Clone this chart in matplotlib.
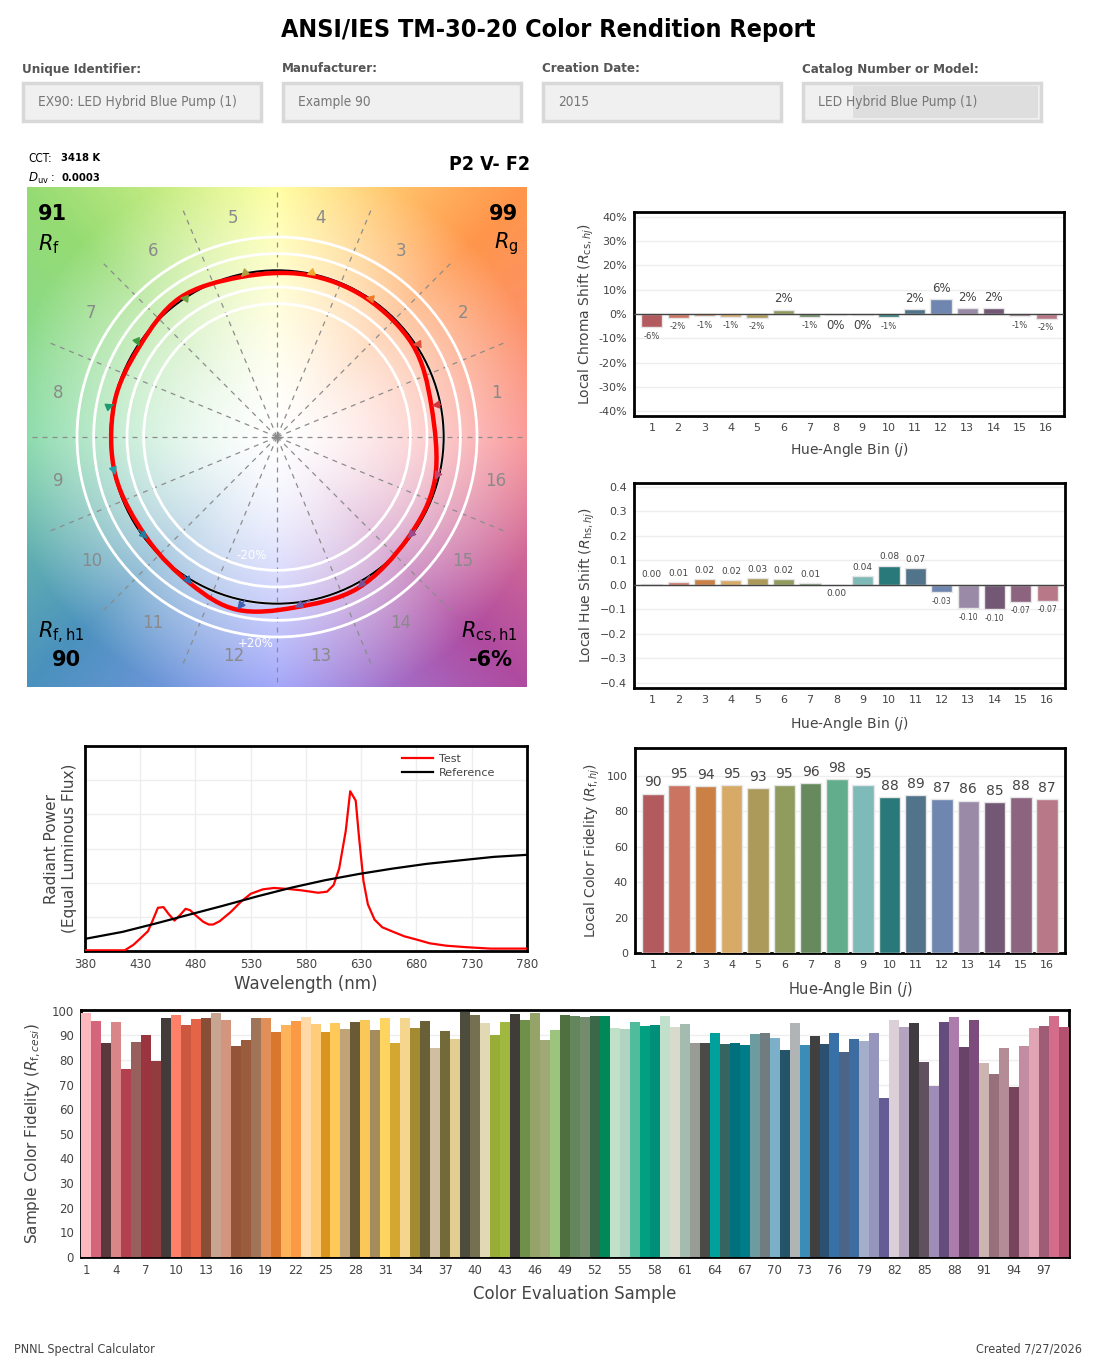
import numpy as np
import matplotlib
matplotlib.use('Agg')
import matplotlib.pyplot as plt
from matplotlib.patches import Rectangle, Circle, PathPatch
from matplotlib.path import Path

W, H = 1093, 1368

# hue-angle bin data
bins = np.arange(1, 17)
bin_colors = ['#b35a5e', '#cc7462', '#cb8046', '#d8aa68', '#ac9a5a', '#909c5e', '#668a5e', '#62ae8c',
              '#7ebab8', '#2a797a', '#52748a', '#6e86b0', '#9a8aa8', '#725874', '#8c6480', '#b87888']
arrow_colors = ['#d8343c', '#e0503c', '#f07828', '#f0a830', '#b0a040', '#6ca040', '#3c9c3c', '#1c9c70',
                '#24a0a8', '#2080a0', '#2468a8', '#4060b0', '#6a5ca8', '#7c5090', '#9a4c8c', '#c04870']
chroma_shift = [-5.5, -1.6, -1.0, -1.1, -1.6, 1.8, -1.2, -0.3, -0.4, -1.4, 2.1, 6.3, 2.4, 2.4, -1.0, -2.1]
hue_shift = [0.004, 0.009, 0.024, 0.018, 0.026, 0.022, 0.008, -0.002, 0.036, 0.078, 0.066,
             -0.032, -0.097, -0.101, -0.070, -0.068]
local_fidelity = [90, 95, 94, 95, 93, 95, 96, 98, 95, 88, 89, 87, 86, 85, 88, 87]

# summary values
rf, rg, rf_h1, rcs_h1 = 91, 99, 90, -6
cct, duv = 3418, 0.0003
header_labels = ['Unique Identifier:', 'Manufacturer:', 'Creation Date:', 'Catalog Number or Model:']
header_values = ['EX90: LED Hybrid Blue Pump (1)', 'Example 90', '2015', 'LED Hybrid Blue Pump (1)']

# spectral power distributions (relative)
wl_test = [380, 416, 424, 430, 437, 441, 446, 451, 456, 461, 466, 471, 475, 481, 487, 492, 496, 502,
           512, 521, 530, 541, 551, 564, 576, 591, 599, 605, 610, 616, 620, 625, 628, 632, 636, 642,
           649, 659, 669, 680, 692, 707, 726, 747, 780]
spd_test = [0.004, 0.004, 0.037, 0.073, 0.116, 0.175, 0.253, 0.257, 0.214, 0.178, 0.210, 0.247, 0.239,
            0.204, 0.171, 0.155, 0.155, 0.175, 0.229, 0.288, 0.335, 0.361, 0.369, 0.363, 0.355, 0.341,
            0.347, 0.386, 0.482, 0.704, 0.935, 0.880, 0.665, 0.410, 0.273, 0.184, 0.139, 0.112, 0.086,
            0.067, 0.045, 0.031, 0.022, 0.014, 0.014]
wl_ref = [380, 414, 444, 475, 505, 536, 567, 597, 628, 658, 689, 720, 750, 780]
spd_ref = [0.071, 0.112, 0.161, 0.214, 0.265, 0.320, 0.371, 0.414, 0.451, 0.482, 0.510, 0.531, 0.551, 0.563]

# color evaluation samples
samples = np.arange(1, 100)
sample_fidelity = [99.0, 95.8, 87.0, 95.4, 76.2, 87.2, 90.2, 79.5, 97.0, 98.2, 94.2, 96.6, 97.0, 99.0,
                   96.2, 85.6, 88.0, 97.0, 97.0, 91.3, 94.2, 95.8, 97.4, 94.6, 91.3, 95.0, 92.5, 95.4,
                   96.2, 92.1, 97.0, 86.8, 97.0, 92.9, 95.8, 84.8, 91.7, 88.5, 99.5, 98.2, 95.0, 90.1,
                   95.4, 98.6, 96.2, 99.0, 88.0, 92.1, 98.2, 97.8, 97.4, 97.8, 97.8, 92.9, 92.5, 95.4,
                   93.8, 94.2, 97.8, 93.3, 94.6, 86.8, 86.8, 90.9, 86.4, 86.8, 86.0, 90.5, 90.9, 88.9,
                   84.0, 95.0, 86.0, 89.7, 86.4, 90.9, 83.2, 88.5, 87.6, 90.9, 64.4, 96.2, 93.3, 95.0,
                   79.1, 69.3, 95.4, 97.4, 85.2, 96.2, 78.7, 74.2, 84.8, 68.9, 85.6, 92.9, 93.8, 97.8,
                   93.3]
sample_colors = ['#fdb8be', '#d4657a', '#5a383c', '#d88688', '#b2404e', '#97605c', '#9a343e', '#933c40',
                 '#433b3a', '#ff8068', '#cc5840', '#e56448', '#884e38', '#c7a591', '#d4957e', '#935438',
                 '#9a5c3c', '#a07458', '#e08f58', '#d9772e', '#feb25a', '#fa9a45', '#ffd9a8', '#ffcc7a',
                 '#da9420', '#ffc95a', '#c0a478', '#6a5a36', '#fac858', '#a58c5c', '#fed460', '#d4a830',
                 '#f4d68e', '#a48a30', '#6a6038', '#cfbea0', '#736a3a', '#e2ce90', '#4e4c3c', '#747050',
                 '#e2d9b4', '#98ac38', '#a0b840', '#403c38', '#6e9048', '#94a468', '#a0a878', '#9cc47c',
                 '#507040', '#64865c', '#728c6c', '#3a6848', '#008858', '#c0e0c8', '#b0d4c0', '#50bc9c',
                 '#00a080', '#00907a', '#c0e0cc', '#d8dacc', '#a4bcb0', '#989c94', '#4a4a46', '#00a09c',
                 '#366460', '#00707c', '#007c88', '#6c9ca0', '#707c80', '#7cb0c8', '#245468', '#b0b4b4',
                 '#3c8cb8', '#404040', '#2c5070', '#3870a8', '#4c6488', '#3c6ca0', '#a4aeca', '#9696bc',
                 '#645c94', '#dcd0d8', '#b4a4c0', '#403c40', '#605060', '#a08cb8', '#644c7c', '#ac7cac',
                 '#6a4468', '#7c4c7c', '#ccb4b0', '#98707c', '#b48c98', '#78445c', '#c48ca0', '#e0a4b4',
                 '#a05c74', '#d46c8c', '#b45070']

plt.rcParams['font.family'] = ['DejaVu Sans']
plt.rcParams['mathtext.fontset'] = 'dejavusans'
txt = '#444444'
# condensed face for the report header and footer
narrow = dict(family=['DejaVu Sans'], fontstretch='condensed')


def rect(x0, y0, x1, y1):
    return [x0 / W, 1 - y1 / H, (x1 - x0) / W, (y1 - y0) / H]


def frame(ax):
    for s in ax.spines.values():
        s.set_linewidth(2)
        s.set_color('black')
    ax.tick_params(length=0, labelsize=8, colors=txt, pad=5)


fig = plt.figure(figsize=(W / 100, H / 100), dpi=100)

# header / footer drawn in pixel coordinates
bg = fig.add_axes([0, 0, 1, 1])
bg.set_xlim(0, W)
bg.set_ylim(H, 0)
bg.axis('off')
bg.text(548, 30, 'ANSI/IES TM-30-20 Color Rendition Report', ha='center', va='center',
        fontsize=18, fontweight='bold', **narrow)
for i, (lab, val) in enumerate(zip(header_labels, header_values)):
    x0 = 22 + 260 * i
    bg.text(x0, 69, lab, ha='left', va='center', fontsize=9.5, fontweight='bold', color='#555555', **narrow)
    bg.add_patch(Rectangle((x0 + 1, 83), 238, 38, fc='#f0f0f0', ec='#d8d8d8', lw=2.5))
    if i == 3:
        bg.add_patch(Rectangle((853, 86), 185, 32, fc='#dedede', ec='none'))
    bg.text(x0 + 16, 102, val, ha='left', va='center', fontsize=9.8, color='#777777', **narrow)
bg.text(28, 158, 'CCT:', ha='left', va='center', fontsize=8.5, color='black', **narrow)
bg.text(61, 158, f'{cct} K', ha='left', va='center', fontsize=8, fontweight='bold', **narrow)
bg.text(28, 178, r'$D_{\mathrm{uv}}$ :', ha='left', va='center', fontsize=8.5, **narrow)
bg.text(61, 178, f'{duv:.4f}', ha='left', va='center', fontsize=8, fontweight='bold', **narrow)
bg.text(530, 165, 'P2 V- F2', ha='right', va='center', fontsize=14, fontweight='bold', **narrow)
bg.text(14, 1349, 'PNNL Spectral Calculator', ha='left', va='center', fontsize=9, color=txt, **narrow)
bg.text(1082, 1349, 'Created 7/27/2026', ha='right', va='center', fontsize=9, color=txt, **narrow)

# ---- color vector graphic ----
ax = fig.add_axes(rect(27, 187, 527, 687))
g = np.linspace(-1.5, 1.5, 500)
gx, gy = np.meshgrid(g, g)
ang = np.degrees(np.arctan2(gy, gx)) % 360
rad = np.hypot(gx, gy)
anchor_ang = [0, 45, 90, 135, 180, 225, 270, 315, 360]
anchor_rgb = np.array([(250, 140, 140), (255, 150, 75), (255, 255, 150), (150, 220, 115), (125, 215, 160),
                       (75, 145, 190), (150, 155, 250), (175, 75, 160), (250, 140, 140)]) / 255
rgb = np.stack([np.interp(ang, anchor_ang, anchor_rgb[:, k]) for k in range(3)], -1)
t = np.clip(rad / 1.65, 0, 1) ** 1.5
img = 1 - (1 - rgb) * t[..., None]
ax.imshow(img, extent=[-1.5, 1.5, -1.5, 1.5], origin='lower', zorder=0, interpolation='bilinear')
for k in range(16):
    a = np.radians(22.5 * k)
    ax.plot([0, 1.5 * np.cos(a)], [0, 1.5 * np.sin(a)], ls=(0, (4, 4)), color='#8c8c8c', lw=0.9, zorder=1)
for r in [0.8, 0.9, 1.0, 1.1, 1.2]:
    ax.add_patch(Circle((0, 0), r, fill=False, ec='white', lw=2, zorder=2))
ax.plot(0, 0, marker='+', color='#888888', ms=9, zorder=2)
for j in bins:
    a = np.radians((j - 0.5) * 22.5)
    ax.text(1.34 * np.cos(a), 1.34 * np.sin(a), str(j), ha='center', va='center', fontsize=12, color='#8a8a8a')
ax.text(-0.15, -0.71, '-20%', ha='center', va='center', fontsize=8.5, color='white')
ax.text(-0.13, -1.24, '+20%', ha='center', va='center', fontsize=8.5, color='white')
ax.add_patch(Circle((0, 0), 1.0, fill=False, ec='black', lw=1.5, zorder=3))

theta = np.radians((bins - 0.5) * 22.5)
cs = np.array(chroma_shift) / 100
hs = np.array(hue_shift)
ref_x, ref_y = np.cos(theta), np.sin(theta)
tx = (1 + cs) * ref_x - hs * np.sin(theta)
ty = (1 + cs) * ref_y + hs * np.cos(theta)
pts = np.column_stack([tx, ty])
n = len(pts)
verts = [pts[0]]
codes = [Path.MOVETO]
for i in range(n):
    p0, p1, p2, p3 = pts[i - 1], pts[i], pts[(i + 1) % n], pts[(i + 2) % n]
    verts += [p1 + (p2 - p0) / 6, p2 - (p3 - p1) / 6, p2]
    codes += [Path.CURVE4] * 3
ax.add_patch(PathPatch(Path(verts, codes), fill=False, ec='red', lw=3.2, zorder=4))
for i in range(n):
    ax.annotate('', xy=(tx[i], ty[i]), xytext=(ref_x[i], ref_y[i]),
                arrowprops=dict(arrowstyle='-|>', color=arrow_colors[i], lw=1, mutation_scale=12,
                                shrinkA=0, shrinkB=0), zorder=5)
ax.set_xlim(-1.5, 1.5)
ax.set_ylim(-1.5, 1.5)
ax.set_xticks([])
ax.set_yticks([])
for s in ax.spines.values():
    s.set_visible(False)
ax.text(0.022, 0.946, str(rf), transform=ax.transAxes, ha='left', va='center', fontsize=15, fontweight='bold')
ax.text(0.022, 0.886, r'$R_\mathrm{f}$', transform=ax.transAxes, ha='left', va='center', fontsize=15)
ax.text(0.982, 0.946, str(rg), transform=ax.transAxes, ha='right', va='center', fontsize=15, fontweight='bold')
ax.text(0.982, 0.886, r'$R_\mathrm{g}$', transform=ax.transAxes, ha='right', va='center', fontsize=15)
ax.text(0.022, 0.108, r'$R_\mathrm{f,h1}$', transform=ax.transAxes, ha='left', va='center', fontsize=15)
ax.text(0.05, 0.054, str(rf_h1), transform=ax.transAxes, ha='left', va='center', fontsize=15, fontweight='bold')
ax.text(0.982, 0.108, r'$R_\mathrm{cs,h1}$', transform=ax.transAxes, ha='right', va='center', fontsize=15)
ax.text(0.972, 0.054, f'{rcs_h1}%', transform=ax.transAxes, ha='right', va='center', fontsize=15, fontweight='bold')

# ---- local chroma shift ----
ax = fig.add_axes(rect(634, 212, 1064, 416))
ax.bar(bins, chroma_shift, width=0.8, color=bin_colors, edgecolor='#e6e6e6', lw=1, zorder=3)
ax.axhline(0, color='#444444', lw=1, zorder=4)
ax.set_xlim(0.32, 16.68)
ax.set_ylim(-42, 42)
ax.set_xticks(bins)
ax.set_yticks(range(-40, 41, 10))
ax.set_yticklabels([f'{v}%' for v in range(-40, 41, 10)])
ax.grid(axis='y', color='#eeeeee', lw=1)
ax.set_axisbelow(True)
frame(ax)
for b, v in zip(bins, chroma_shift):
    lab = f'{round(v)}%'
    if v >= 0:
        ax.annotate(lab, (b, v), xytext=(0, 3), textcoords='offset points', ha='center', va='bottom',
                    fontsize=8.5, color=txt)
    else:
        ax.annotate(lab, (b, v), xytext=(0, -3), textcoords='offset points', ha='center', va='top',
                    fontsize=8.5 if round(v) == 0 else 6, color=txt)
ax.set_ylabel(r'Local Chroma Shift ($R_{\mathrm{cs},hj}$)', fontsize=10, color=txt, labelpad=2)
ax.set_xlabel(r'Hue-Angle Bin ($j$)', fontsize=10, color=txt, labelpad=6)

# ---- local hue shift ----
ax = fig.add_axes(rect(634, 483, 1065, 688))
ax.bar(bins, hue_shift, width=0.8, color=bin_colors, edgecolor='#e6e6e6', lw=1, zorder=3)
ax.axhline(0, color='#444444', lw=1, zorder=4)
ax.set_xlim(0.32, 16.68)
ax.set_ylim(-0.422, 0.415)
ax.set_xticks(bins)
ax.set_yticks(np.round(np.arange(-0.4, 0.41, 0.1), 1))
ax.grid(axis='y', color='#eeeeee', lw=1)
ax.set_axisbelow(True)
frame(ax)
for b, v in zip(bins, hue_shift):
    if v >= 0:
        ax.annotate(f'{v:.2f}', (b, v), xytext=(0, 3), textcoords='offset points', ha='center', va='bottom',
                    fontsize=6.5, color=txt)
    else:
        ax.annotate(f'{v:.2f}'.replace('-0.00', '0.00'), (b, v), xytext=(0, -3), textcoords='offset points',
                    ha='center', va='top', fontsize=6.5 if abs(v) < 0.005 else 5.5, color=txt)
ax.set_ylabel(r'Local Hue Shift ($R_{\mathrm{hs},hj}$)', fontsize=10, color=txt, labelpad=2)
ax.set_xlabel(r'Hue-Angle Bin ($j$)', fontsize=10, color=txt, labelpad=7)

# ---- spectral power distribution ----
ax = fig.add_axes(rect(85, 746, 527, 951))
ax.plot(wl_test, spd_test, color='red', lw=1.6, label='Test', zorder=3)
ax.plot(wl_ref, spd_ref, color='black', lw=1.6, label='Reference', zorder=3)
ax.set_xlim(380, 780)
ax.set_ylim(0, 1.2)
ax.set_xticks(range(380, 781, 50))
ax.set_yticks(np.arange(0, 1.21, 0.2))
ax.set_yticklabels([])
ax.grid(color='#eeeeee', lw=1)
ax.set_axisbelow(True)
frame(ax)
ax.tick_params(labelsize=8.5)
ax.legend(loc='upper right', bbox_to_anchor=(0.945, 1.0), frameon=False, fontsize=8, handlelength=2.8,
          labelcolor=txt, borderaxespad=0.3, labelspacing=0.4, handletextpad=0.5)
ax.set_xlabel('Wavelength (nm)', fontsize=12, color=txt, labelpad=3)
ax.set_ylabel('Radiant Power\n(Equal Luminous Flux)', fontsize=11, color=txt, labelpad=1)

# ---- local color fidelity ----
ax = fig.add_axes(rect(635, 748, 1065, 953))
ax.bar(bins, local_fidelity, width=0.82, color=bin_colors, edgecolor='#e6e6e6', lw=1, zorder=3)
ax.set_xlim(0.32, 16.68)
ax.set_ylim(0, 115.7)
ax.set_xticks(bins)
ax.set_yticks(range(0, 101, 20))
ax.grid(axis='y', color='#eeeeee', lw=1)
ax.set_axisbelow(True)
frame(ax)
for b, v in zip(bins, local_fidelity):
    ax.annotate(str(v), (b, v), xytext=(0, 3), textcoords='offset points', ha='center', va='bottom',
                fontsize=10, color=txt)
ax.set_ylabel(r'Local Color Fidelity ($R_{\mathrm{f},hj}$)', fontsize=10, color=txt, labelpad=4)
ax.set_xlabel(r'Hue-Angle Bin ($j$)', fontsize=10.5, color=txt, labelpad=7)

# ---- sample color fidelity ----
ax = fig.add_axes(rect(81, 1010, 1069, 1257))
ax.bar(samples, sample_fidelity, width=1.0, color=sample_colors, lw=0, zorder=3)
ax.set_xlim(0.5, 99.5)
ax.set_ylim(0, 100.3)
ax.set_xticks(range(1, 100, 3))
ax.set_yticks(range(0, 101, 10))
ax.grid(axis='y', color='#eeeeee', lw=1)
ax.set_axisbelow(True)
frame(ax)
ax.tick_params(labelsize=8.5)
ax.set_ylabel(r'Sample Color Fidelity ($R_{\mathrm{f},ces i}$)', fontsize=11, color=txt, labelpad=6)
ax.set_xlabel('Color Evaluation Sample', fontsize=12, color=txt, labelpad=6)

fig.savefig('out.png', dpi=100)
